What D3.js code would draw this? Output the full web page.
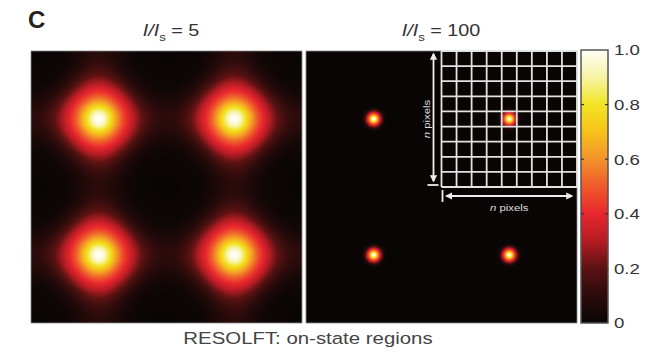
<!DOCTYPE html>
<html>
<head>
<meta charset="utf-8">
<script src="https://cdn.jsdelivr.net/npm/d3@7"></script>
<style>
  body { margin: 0; background: #fff; }
  svg { font-family: "Liberation Sans", Arial, sans-serif; }
</style>
</head>
<body>
<svg width="658" height="360"></svg>
<script>
// saturation factor I/Is for the two panels
const ratios = [5, 100];
const ratioLabels = ['5', '100'];
// zeros of the off-switching pattern (on-state spots), in pattern periods
const spotsX = [0.5, 1.5];
const spotsY = [0.5, 1.5];
// colour map
const cmapStops = [0, 0.1, 0.2, 0.3, 0.4, 0.5, 0.6, 0.7, 0.8, 0.9, 1.0];
const cmapColors = ['#0a0505', '#2c0b0b', '#5a1212', '#b41c24', '#e8262e', '#ee5a2a',
                    '#f3922a', '#f6c21a', '#f2e423', '#f7f2a4', '#fffff6'];
const cbarTicks = [0, 0.2, 0.4, 0.6, 0.8, 1.0];
const cbarLabels = ['0', '0.2', '0.4', '0.6', '0.8', '1.0'];
const insetCells = 9;

const svg = d3.select('svg');
const sx = 1.2; // the original lettering is a little wide

const panelTop = 51, panelW = 271, panelH = 272;
const panelX = [31, 306];
const titleX = [171, 441];

const color = d3.scaleLinear().domain(cmapStops).range(cmapColors).clamp(true);

// fraction of molecules left in the on-state after off-switching;
// f is the dose of the crossed standing waves (0 at the spots, 2 between them)
const onState = (s, u, v) => {
    const a = Math.sin(Math.PI * (u - spotsX[0]));
    const b = Math.sin(Math.PI * (v - spotsY[0]));
    const d = s * (a * a + b * b);
    return 0.55 * Math.exp(-d / 0.75) + 0.45 * Math.exp(-(d / 4) * (d / 4));
};

const x = d3.scaleLinear().domain([0, 2]).range([0, panelW]);
const y = d3.scaleLinear().domain([0, 2]).range([0, panelH]);

const label = (parent, px, py) => parent.append('text')
    .attr('transform', `translate(${px}, ${py}) scale(${sx}, 1)`);

ratios.forEach((s, i) => {
    const canvas = document.createElement('canvas');
    canvas.width = panelW;
    canvas.height = panelH;
    const ctx = canvas.getContext('2d');
    const img = ctx.createImageData(panelW, panelH);
    for (let py = 0; py < panelH; py++) {
        for (let px = 0; px < panelW; px++) {
            const c = d3.rgb(color(onState(s, x.invert(px + 0.5), y.invert(py + 0.5))));
            const k = 4 * (py * panelW + px);
            img.data[k] = c.r;
            img.data[k + 1] = c.g;
            img.data[k + 2] = c.b;
            img.data[k + 3] = 255;
        }
    }
    ctx.putImageData(img, 0, 0);

    const g = svg.append('g').attr('transform', `translate(${panelX[i]}, ${panelTop})`);
    g.append('image')
        .attr('width', panelW).attr('height', panelH)
        .attr('preserveAspectRatio', 'none')
        .attr('href', canvas.toDataURL());
    g.append('rect')
        .attr('width', panelW).attr('height', panelH)
        .attr('fill', 'none').attr('stroke', '#888').attr('stroke-width', 0.8);

    const t = label(svg, titleX[i], 36)
        .attr('text-anchor', 'middle')
        .attr('font-size', 16.5).attr('fill', '#333');
    t.append('tspan').attr('font-style', 'italic').text('I/I');
    t.append('tspan').attr('font-size', 11).attr('dy', 5).text('s');
    t.append('tspan').attr('dy', -5).text(' = ' + ratioLabels[i]);
});

// inset grid: n x n pixels round one spot
const gx = d3.scaleLinear().domain([0, insetCells]).range([panelX[1] + x(1), panelX[1] + x(2)]);
const gy = d3.scaleLinear().domain([0, insetCells]).range([panelTop, panelTop + y(1)]);
const inset = svg.append('g').attr('stroke', '#e2e2e2').attr('stroke-width', 1.8);
inset.selectAll('.v').data(d3.range(insetCells + 1)).enter().append('line')
    .attr('x1', d => gx(d)).attr('x2', d => gx(d))
    .attr('y1', gy(0)).attr('y2', gy(insetCells));
inset.selectAll('.h').data(d3.range(insetCells + 1)).enter().append('line')
    .attr('x1', gx(0)).attr('x2', gx(insetCells))
    .attr('y1', d => gy(d)).attr('y2', d => gy(d));

const defs = svg.append('defs');
defs.append('marker')
    .attr('id', 'head').attr('viewBox', '0 0 10 10')
    .attr('refX', 8).attr('refY', 5)
    .attr('markerWidth', 4).attr('markerHeight', 4)
    .attr('orient', 'auto-start-reverse')
    .append('path').attr('d', 'M0,0 L10,5 L0,10 z').attr('fill', '#eee');

const ann = svg.append('g').attr('stroke', '#eee').attr('stroke-width', 1.8);
const ax = gx(0) - 8;
ann.append('line')
    .attr('x1', ax).attr('x2', ax).attr('y1', gy(0) + 3).attr('y2', gy(insetCells) - 6)
    .attr('marker-start', 'url(#head)').attr('marker-end', 'url(#head)');
ann.append('line')
    .attr('x1', ax - 6).attr('x2', ax + 5).attr('y1', gy(insetCells) - 2).attr('y2', gy(insetCells) - 2);
const ay = gy(insetCells) + 9;
ann.append('line')
    .attr('x1', gx(0) + 5).attr('x2', gx(insetCells) - 5).attr('y1', ay).attr('y2', ay)
    .attr('marker-start', 'url(#head)').attr('marker-end', 'url(#head)');
ann.append('line')
    .attr('x1', gx(0) + 1).attr('x2', gx(0) + 1).attr('y1', ay - 6).attr('y2', ay + 6);

const lab1 = svg.append('text')
    .attr('transform', `translate(${ax - 4}, ${(gy(0) + gy(insetCells)) / 2}) rotate(-90) scale(${sx}, 1)`)
    .attr('text-anchor', 'middle').attr('font-size', 9.5).attr('fill', '#ddd');
lab1.append('tspan').attr('font-style', 'italic').text('n');
lab1.append('tspan').text(' pixels');
const lab2 = label(svg, (gx(0) + gx(insetCells)) / 2, ay + 15)
    .attr('text-anchor', 'middle').attr('font-size', 9.5).attr('fill', '#ddd');
lab2.append('tspan').attr('font-style', 'italic').text('n');
lab2.append('tspan').text(' pixels');

// colour bar
const cb = { x: 581, w: 27, y0: 50, y1: 323 };
const cScale = d3.scaleLinear().domain([0, 1]).range([cb.y1, cb.y0]);
const grad = defs.append('linearGradient')
    .attr('id', 'cmap').attr('x1', 0).attr('x2', 0).attr('y1', 1).attr('y2', 0);
grad.selectAll('stop').data(cmapStops).enter().append('stop')
    .attr('offset', d => d)
    .attr('stop-color', (d, i) => cmapColors[i]);
svg.append('rect')
    .attr('x', cb.x).attr('y', cb.y0).attr('width', cb.w).attr('height', cb.y1 - cb.y0)
    .attr('fill', 'url(#cmap)').attr('stroke', '#555').attr('stroke-width', 1.5);
const inner = cbarTicks.slice(1, -1);
svg.selectAll('.tl').data(inner).enter().append('line')
    .attr('x1', cb.x).attr('x2', cb.x + 3)
    .attr('y1', d => cScale(d)).attr('y2', d => cScale(d))
    .attr('stroke', '#333').attr('stroke-width', 1.2);
svg.selectAll('.tr').data(inner).enter().append('line')
    .attr('x1', cb.x + cb.w - 3).attr('x2', cb.x + cb.w)
    .attr('y1', d => cScale(d)).attr('y2', d => cScale(d))
    .attr('stroke', '#333').attr('stroke-width', 1.2);

const axis = svg.append('g')
    .attr('transform', `translate(${cb.x + cb.w}, 0)`)
    .call(d3.axisRight(cScale).tickValues(cbarTicks)
        .tickFormat((d, i) => cbarLabels[i]).tickSize(0).tickPadding(5));
axis.select('.domain').remove();
axis.selectAll('text')
    .attr('transform', `scale(${sx}, 1)`)
    .attr('font-family', '"Liberation Sans", Arial, sans-serif')
    .attr('font-size', 15.5).attr('fill', '#333');

// panel letter and caption
svg.append('text')
    .attr('x', 28).attr('y', 28)
    .attr('font-size', 24).attr('font-weight', 'bold').attr('fill', '#222')
    .text('C');
label(svg, 308, 344)
    .attr('text-anchor', 'middle').attr('font-size', 17).attr('fill', '#444')
    .text('RESOLFT: on-state regions');
</script>
</body>
</html>
